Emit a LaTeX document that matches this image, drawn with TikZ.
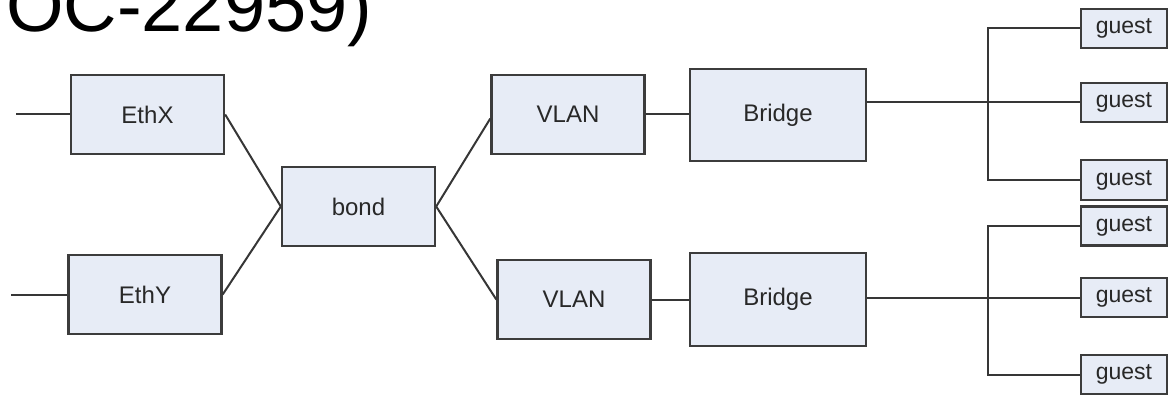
\documentclass[tikz,border=0pt]{standalone}
\usepackage{fontspec}
\setmainfont{Liberation Sans}
\definecolor{boxfill}{RGB}{231,236,246}
\definecolor{boxline}{RGB}{60,60,60}
\definecolor{txt}{RGB}{40,40,40}
\tikzset{
  unit/.style={draw=boxline, fill=boxfill, line width=2.4pt, inner sep=0pt,
    text=txt, font=\fontsize{24}{27}\selectfont},
  bigbox/.style={unit, minimum width=153pt, minimum height=79pt},
  brbox/.style={unit, minimum width=176pt, minimum height=92pt},
  guestbox/.style={unit, minimum width=86pt, minimum height=39pt, font=\fontsize{23}{25}\selectfont},
  wire/.style={draw=boxline!90!black, line width=2pt},
}
\begin{document}
\begin{tikzpicture}[x=1pt,y=-1pt]
\useasboundingbox (0,0) rectangle (1169,395);
\node[anchor=base west, inner sep=0pt, font=\fontsize{74}{80}\selectfont] (title) at (6,32) {OC-22959)};

\node[bigbox] (ethx) at (147.5,114.5) {EthX};
\node[bigbox] (ethy) at (145,294.5) {EthY};
\node[bigbox] (bond) at (358.5,206.5) {bond};
\node[bigbox] (vlan1) at (568,114.5) {VLAN};
\node[bigbox] (vlan2) at (574,299.5) {VLAN};
\node[brbox] (br1) at (778,115) {Bridge};
\node[brbox, minimum height=93pt] (br2) at (778,299.5) {Bridge};

\node[guestbox] (g1) at (1124,28.5) {guest};
\node[guestbox] (g2) at (1124,102.5) {guest};
\node[guestbox, minimum height=40pt] (g3) at (1124,180) {guest};
\node[guestbox] (g4) at (1124,226) {guest};
\node[guestbox] (g5) at (1124,297.5) {guest};
\node[guestbox] (g6) at (1124,374.5) {guest};

\coordinate (inx) at (16,114.5);
\coordinate (iny) at (11,294.5);
\coordinate (t1) at (988,102.5);
\coordinate (t2) at (988,297.5);

\draw[wire] (inx) -- (ethx.west);
\draw[wire] (iny) -- (ethy.west);
\draw[wire] (ethx.east) -- (bond.west);
\draw[wire] (ethy.east) -- (bond.west);
\draw[wire] (bond.east) -- ([yshift=-4pt]vlan1.west);
\draw[wire] (bond.east) -- (vlan2.west);
\draw[wire] (vlan1.east) -- (vlan1.east -| br1.west);
\draw[wire] (vlan2.east) -- (vlan2.east -| br2.west);
\draw[wire] (br1.east |- g2.west) -- (g2.west);
\draw[wire] (br2.east |- g5.west) -- (g5.west);
\draw[wire] (g1.west) -| (t1) |- (g3.west);
\draw[wire] (g4.west) -| (t2) |- (g6.west);
\end{tikzpicture}
\end{document}
